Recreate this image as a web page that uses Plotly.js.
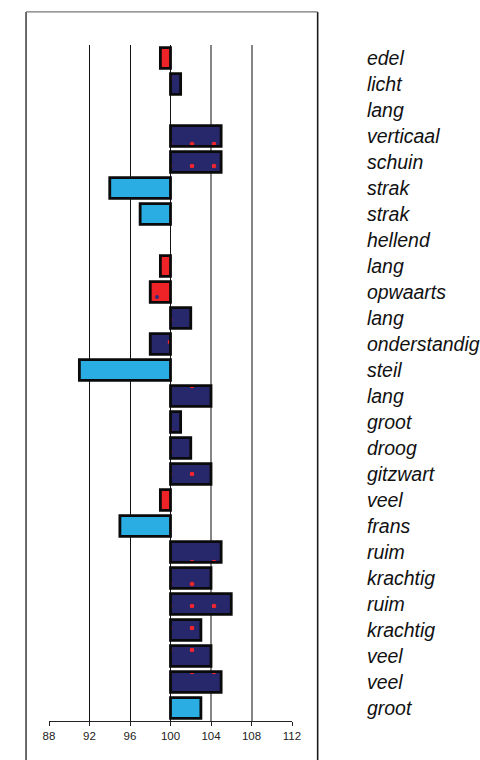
<!DOCTYPE html>
<html>
<head>
<meta charset="utf-8">
<script src="https://cdn.plot.ly/plotly-3.0.1.min.js"></script>
<style>html,body{margin:0;padding:0;background:#fff;}#chart{width:480px;height:760px;}</style>
</head>
<body>
<div id="chart"></div>
<script>
// Data
const labels = ["edel","licht","lang","verticaal","schuin","strak","strak","hellend","lang","opwaarts","lang","onderstandig","steil","lang","groot","droog","gitzwart","veel","frans","ruim","krachtig","ruim","krachtig","veel","veel","groot"];
const values = [99,101,null,105,105,94,97,null,99,98,102,98,91,104,101,102,104,99,95,105,104,106,103,104,105,103];
const groups = ["red","navy",null,"navy","navy","blue","blue",null,"red","red","navy","navy","blue","navy","navy","navy","navy","red","blue","navy","navy","navy","navy","navy","navy","blue"];
const baseline = 100;
const xTicks = [88,92,96,100,104,108,112];
const gridBlack = [92,96,100];
const gridGray = [104,108];

const styles = {
  navy: {fill: "#27286c", pattern: {shape: ".", fgcolor: "#f0262c", fgopacity: 1, size: 22, solidity: 0.035, fillmode: "overlay"}},
  red:  {fill: "#ee2328", pattern: {shape: ".", fgcolor: "#2b2c7a", fgopacity: 1, size: 24, solidity: 0.02, fillmode: "overlay"}},
  blue: {fill: "#29ade3", pattern: {shape: ""}}
};

const idx = labels.map((_, i) => i);

const barTraces = Object.keys(styles).map(k => ({
  type: "bar",
  orientation: "h",
  y: idx,
  x: values.map((v, i) => (groups[i] === k && v != null) ? v - baseline : null),
  base: baseline,
  marker: {color: styles[k].fill, line: {color: "#0a0a0a", width: 2.8}, pattern: styles[k].pattern},
  hoverinfo: "skip",
  showlegend: false
}));

const dummy2 = {type:"scatter", x:[baseline], y:[0], xaxis:"x2", yaxis:"y", mode:"markers", marker:{opacity:0}, hoverinfo:"skip", showlegend:false};
const dummy3 = {type:"scatter", x:[baseline], y:[0], xaxis:"x3", yaxis:"y", mode:"markers", marker:{opacity:0}, hoverinfo:"skip", showlegend:false};

const frameColor = "#1a1a1a";
const layout = {
  width: 480, height: 760,
  margin: {l: 49, r: 188, t: 45, b: 39, pad: 0},
  paper_bgcolor: "#ffffff", plot_bgcolor: "rgba(0,0,0,0)",
  barmode: "overlay",
  bargap: 0.2,
  font: {family: "Liberation Sans, Arial, sans-serif", color: "#222"},
  xaxis: {
    range: [88, 112], tickmode: "array", tickvals: xTicks, ticktext: xTicks.map(String),
    showgrid: false, zeroline: false, showline: true, linecolor: "#222", linewidth: 1,
    ticks: "outside", ticklen: 4, tickcolor: "#222", tickwidth: 1,
    tickfont: {size: 11.5, color: "#222"}, fixedrange: true
  },
  xaxis2: {
    overlaying: "x", range: [88, 112], tickmode: "array", tickvals: gridBlack,
    showgrid: true, gridcolor: "#111", gridwidth: 1, showticklabels: false,
    ticks: "", zeroline: false, showline: false
  },
  xaxis3: {
    overlaying: "x", range: [88, 112], tickmode: "array", tickvals: gridGray,
    showgrid: true, gridcolor: "#858585", gridwidth: 2, showticklabels: false,
    ticks: "", zeroline: false, showline: false
  },
  yaxis: {
    range: [labels.length - 0.5, -0.5], tickmode: "array", tickvals: idx, ticktext: labels,
    side: "right", showgrid: false, zeroline: false, showline: false,
    ticks: "outside", ticklen: 70, tickcolor: "rgba(0,0,0,0)",
    tickfont: {size: 19.5, color: "#111", family: "Liberation Sans, Arial, sans-serif", style: "italic"},
    fixedrange: true
  },
  shapes: [
    {type: "line", xref: "paper", yref: "paper", x0: -0.0945, x1: -0.0945, y0: 1.049, y1: -0.1, line: {color: frameColor, width: 1.3}},
    {type: "line", xref: "paper", yref: "paper", x0: 1.1056, x1: 1.1056, y0: 1.049, y1: -0.1, line: {color: frameColor, width: 1.6}},
    {type: "line", xref: "paper", yref: "paper", x0: -0.0945, x1: 1.1056, y0: 1.049, y1: 1.049, line: {color: "#777", width: 1.3}}
  ]
};

Plotly.newPlot("chart", [dummy2, dummy3].concat(barTraces), layout, {staticPlot: true, displayModeBar: false});
</script>
</body>
</html>
